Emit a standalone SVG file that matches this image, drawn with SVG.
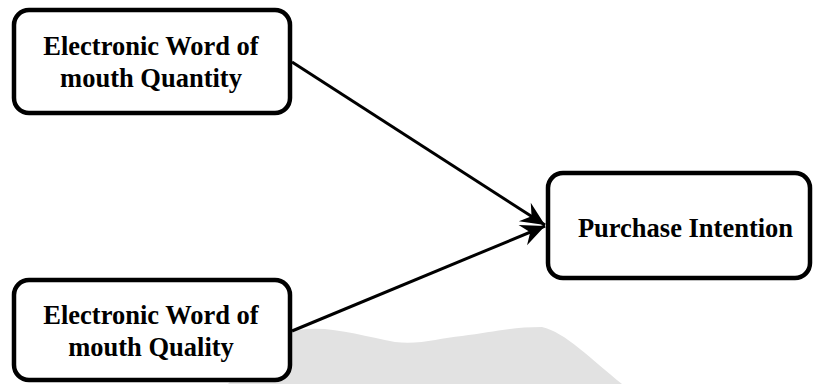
<svg xmlns="http://www.w3.org/2000/svg" width="813" height="384" viewBox="0 0 813 384">
<style>
.box{fill:#ffffff;stroke:#000000;stroke-width:4.5}
.lbl{font-family:"Liberation Serif","Times New Roman",serif;font-weight:bold;font-size:26.5px;fill:#000000;text-anchor:middle}
.edge{stroke:#000000;stroke-width:3;fill:none;marker-end:url(#arr)}
</style>
<defs>
<marker id="arr" markerUnits="userSpaceOnUse" markerWidth="30" markerHeight="26" viewBox="-26 -13 28 26" refX="0" refY="0" orient="auto">
<path d="M0,0 L-24,-11 L-16,0 L-24,11 Z" fill="#000000"/>
</marker>
</defs>
<rect width="813" height="384" fill="#ffffff"/>
<path id="watermark" d="M228,384 C250,360 272,340 298,330 C330,325 362,336 395,342 C420,345 440,338 462,336 C492,332 512,327 542,327 C565,332 592,360 622,384 Z" fill="#e2e2e2"/>
<g id="connectors">
<line class="edge" x1="292" y1="62" x2="545" y2="225"/>
<line class="edge" x1="292" y1="331" x2="545" y2="226"/>
</g>
<g id="node-quantity">
<rect class="box" x="14" y="10" width="276" height="103" rx="15"/>
<text class="lbl" x="151" y="55">Electronic Word of</text>
<text class="lbl" x="151" y="87">mouth Quantity</text>
</g>
<g id="node-quality">
<rect class="box" x="14" y="280" width="276" height="100" rx="15"/>
<text class="lbl" x="151" y="324">Electronic Word of</text>
<text class="lbl" x="151" y="356">mouth Quality</text>
</g>
<g id="node-purchase">
<rect class="box" x="548" y="173" width="262" height="105" rx="15"/>
<text class="lbl" x="685.5" y="237">Purchase Intention</text>
</g>
</svg>
